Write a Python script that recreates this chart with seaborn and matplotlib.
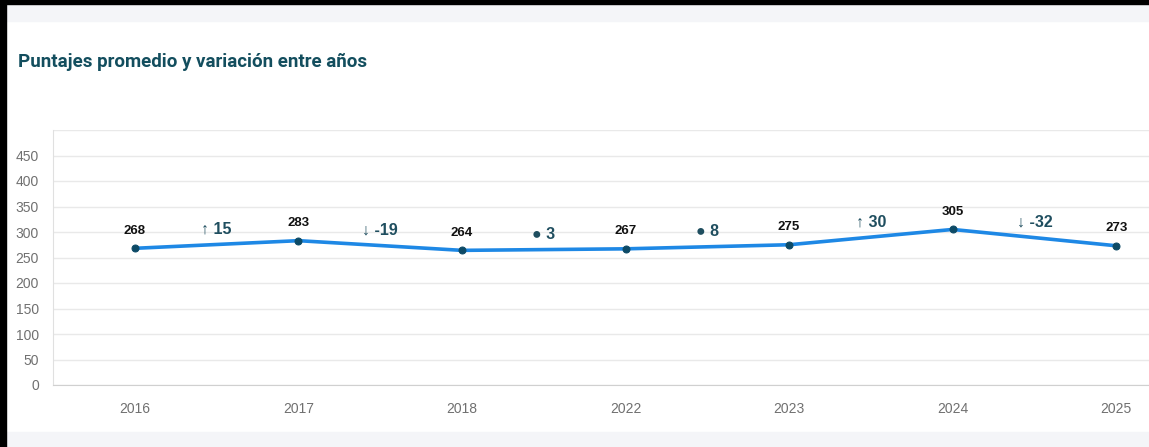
import numpy as np
import pandas as pd
import matplotlib.pyplot as plt
import seaborn as sns
from matplotlib.patches import Rectangle

sns.set_style('white')
plt.rcParams['font.family'] = ['Liberation Sans', 'DejaVu Sans']

# Datos
years = ['2016', '2017', '2018', '2022', '2023', '2024', '2025']
scores = [268, 283, 264, 267, 275, 305, 273]
variations = [15, -19, 3, 8, 30, -32]
y_ticks = [0, 50, 100, 150, 200, 250, 300, 350, 400, 450]

df = pd.DataFrame({'year': years, 'score': scores})

W, H = 1149, 447
fig = plt.figure(figsize=(W / 100, H / 100), dpi=100)
fig.patch.set_facecolor('white')

# fondo tipo tarjeta: bordes negros y bandas grises
fig.patches.append(Rectangle((0, 0), 6 / W, 1, transform=fig.transFigure, color='black', zorder=5))
fig.patches.append(Rectangle((0, 1 - 4 / H), 1, 4 / H, transform=fig.transFigure, color='black', zorder=5))
fig.patches.append(Rectangle((0, 1 - 21 / H), 1, 17 / H, transform=fig.transFigure, color='#f4f5f8', zorder=1))
fig.patches.append(Rectangle((0, 0), 1, 15 / H, transform=fig.transFigure, color='#f4f5f8', zorder=1))

fig.text(18 / W, 1 - 62 / H, 'Puntajes promedio y variación entre años', fontsize=13.5,
         fontweight='bold', color='#134e5e', family='Roboto', va='center', ha='left')

# el eje se sale por la derecha como en la captura
ax = fig.add_axes([53 / W, 62 / H, 1145 / W, 255 / H])
ax.set_facecolor('none')

sns.lineplot(data=df, x='year', y='score', ax=ax, color='#1e88e5', linewidth=2.6,
             marker='o', markersize=5, markerfacecolor='#0d4a66', markeredgecolor='#0d4a66',
             sort=False)

ax.set_xlim(-0.5, len(years) - 0.5)
ax.set_ylim(0, 500)
ax.set_yticks(y_ticks)
ax.set_xlabel('')
ax.set_ylabel('')
for v in y_ticks + [500]:
    ax.axhline(v, color='#e9e9e9', linewidth=1, zorder=0)
ax.tick_params(axis='y', length=7, color='#e0e0e0', labelsize=10, labelcolor='#707070', pad=3)
ax.tick_params(axis='x', length=0, labelsize=10, labelcolor='#707070', pad=12)
for s in ['top', 'right']:
    ax.spines[s].set_visible(False)
ax.spines['left'].set_color('#e0e0e0')
ax.spines['bottom'].set_color('#d0d0d0')

# etiquetas de valores
for i, v in enumerate(scores):
    ax.annotate(str(v), (i, v), xytext=(0, 12.5), textcoords='offset points',
                ha='center', va='center', fontsize=9.5, fontweight='bold', color='#111111')

# variación entre años
for i, d in enumerate(variations):
    if abs(d) < 10:
        sym = '●'
    elif d > 0:
        sym = '↑'
    else:
        sym = '↓'
    mid = (scores[i] + scores[i + 1]) / 2
    ax.annotate(f'{sym} {d}', (i + 0.5, mid), xytext=(0, 11), textcoords='offset points',
                ha='center', va='center', fontsize=11.5, fontweight='bold', color='#1f4e5f',
                family=['Liberation Sans', 'DejaVu Sans'])

fig.savefig('out.png', dpi=100, facecolor=fig.get_facecolor())
